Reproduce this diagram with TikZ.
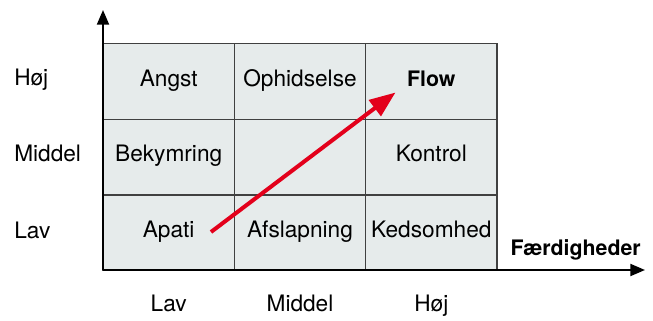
\documentclass[tikz,border=0pt]{standalone}
\usepackage{fontspec}
\setmainfont{TeX Gyre Heros}
\usetikzlibrary{arrows.meta}
\definecolor{cellgray}{RGB}{230,235,235}
\definecolor{flowred}{RGB}{227,0,27}
\begin{document}
\begin{tikzpicture}[x=0.75pt,y=0.75pt,
		cell/.style={draw=black!75,fill=cellgray,line width=0.9pt,minimum width=98.5pt,minimum height=56.75pt,inner sep=0pt,text height=0.72em,text depth=0pt,font=\fontsize{17}{20}\selectfont},
		lbl/.style={inner sep=0pt,text height=0.72em,text depth=0pt,font=\fontsize{17}{20}\selectfont},
		axis/.style={line width=1.5pt,-{Triangle[length=11pt,width=9pt]}}]
			\useasboundingbox (0,0) rectangle (653,321);
			% cells, top row first
			\node[cell] (angst) at (168.7,239.5) {Angst};
			\node[cell] (ophid) at (300,239.5) {Ophidselse};
			\node[cell] (flow) at (431.3,239.5) {\fontsize{16}{19}\selectfont\bfseries Flow};
			\node[cell] (bekym) at (168.7,163.8) {Bekymring};
			\node[cell] (mid) at (300,163.8) {};
			\node[cell] (kontrol) at (431.3,163.8) {Kontrol};
			\node[cell] (apati) at (168.7,88.1) {Apati};
			\node[cell] (afslap) at (300,88.1) {Afslapning};
			\node[cell] (keds) at (431.3,88.1) {Kedsomhed};
			% axes
			\coordinate (O) at (103,51);
			\coordinate (ytop) at (103,311);
			\coordinate (xend) at (645,51);
			\draw[axis] (O) -- (ytop);
			\draw[axis] (O) -- (xend);
			\node[lbl,anchor=east,font=\fontsize{16}{19}\selectfont\bfseries] (faerd) at (641,70) {Færdigheder};
			% levels
			\node[lbl,anchor=west] (yhoj) at (14,240) {Høj};
			\node[lbl,anchor=west] (ymid) at (14,163.8) {Middel};
			\node[lbl,anchor=west] (ylav) at (14,87.5) {Lav};
			\node[lbl] (xlav) at (168.7,14) {Lav};
			\node[lbl] (xmid) at (300,14) {Middel};
			\node[lbl] (xhoj) at (431.3,14) {Høj};
			% red arrow
			\coordinate (start) at (211,89);
			\coordinate (goal) at (395.5,228.5);
			\draw[flowred,line width=3pt,-{Triangle[length=19.5pt,width=14.6pt]}] (start) -- (goal);
		\end{tikzpicture}
\end{document}
